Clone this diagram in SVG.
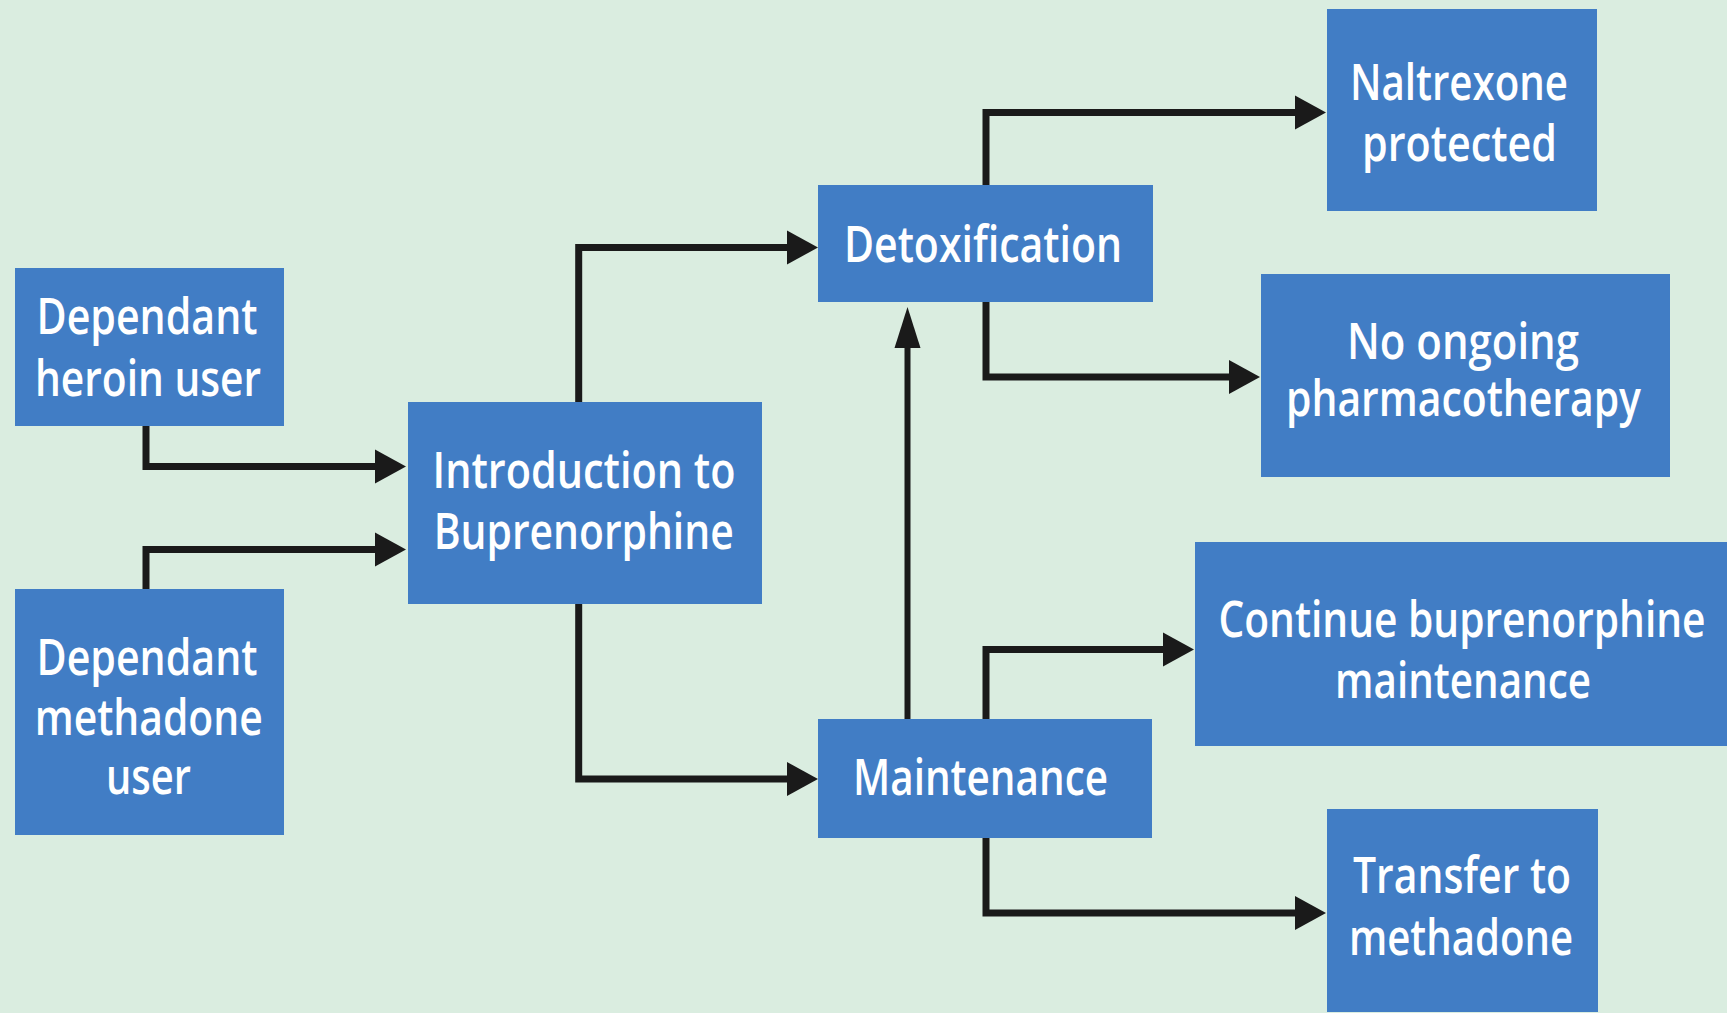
<svg xmlns="http://www.w3.org/2000/svg" width="1727" height="1013" viewBox="0 0 1727 1013">
<style>
.box{fill:#417DC5;}
.lbl{fill:#FFFFFF;font-family:"Open Sans","Noto Sans","DejaVu Sans",sans-serif;font-weight:600;font-size:51px;text-anchor:middle;}
.conn{fill:none;stroke:#1A1A1A;stroke-width:7;stroke-linejoin:miter;stroke-linecap:butt;}
.thin{fill:none;stroke:#1A1A1A;stroke-width:6;}
</style>
<defs>
<marker id="ah" markerUnits="userSpaceOnUse" markerWidth="32" markerHeight="34" refX="0" refY="17" orient="auto" overflow="visible">
<path d="M0,0 L31,17 L0,34 Z" fill="#1A1A1A"/>
</marker>
<marker id="ahUp" markerUnits="userSpaceOnUse" markerWidth="42" markerHeight="26" refX="0" refY="13" orient="auto" overflow="visible">
<path d="M0,0 L41,13 L0,26 Z" fill="#1A1A1A"/>
</marker>
</defs>
<rect x="0" y="0" width="1727" height="1013" fill="#DAEDE0"/>
<g id="connectors">
<path class="conn" d="M146,426 V466.5 H375" marker-end="url(#ah)"/>
<path class="conn" d="M146,589 V549.5 H375" marker-end="url(#ah)"/>
<path class="conn" d="M578.7,402 V247.5 H787" marker-end="url(#ah)"/>
<path class="conn" d="M578.7,604 V779 H787" marker-end="url(#ah)"/>
<path class="thin" d="M907.5,719 V348" marker-end="url(#ahUp)"/>
<path class="conn" d="M986,185 V112.5 H1295" marker-end="url(#ah)"/>
<path class="conn" d="M986,302 V377 H1229" marker-end="url(#ah)"/>
<path class="conn" d="M986,719 V649.5 H1163" marker-end="url(#ah)"/>
<path class="conn" d="M986,838 V913 H1295" marker-end="url(#ah)"/>
</g>
<g id="heroin">
<rect class="box" x="15" y="268" width="269" height="158"/>
<text class="lbl" x="147" y="334" textLength="221" lengthAdjust="spacingAndGlyphs">Dependant</text>
<text class="lbl" x="148" y="395.5" textLength="226" lengthAdjust="spacingAndGlyphs">heroin user</text>
</g>
<g id="methadone-user">
<rect class="box" x="15" y="589" width="269" height="246"/>
<text class="lbl" x="147" y="674.5" textLength="221" lengthAdjust="spacingAndGlyphs">Dependant</text>
<text class="lbl" x="148.7" y="734.5" textLength="228" lengthAdjust="spacingAndGlyphs">methadone</text>
<text class="lbl" x="148.5" y="794" textLength="85" lengthAdjust="spacingAndGlyphs">user</text>
</g>
<g id="introduction">
<rect class="box" x="408" y="402" width="354" height="202"/>
<text class="lbl" x="584" y="488" textLength="303" lengthAdjust="spacingAndGlyphs">Introduction to</text>
<text class="lbl" x="583.7" y="549" textLength="300" lengthAdjust="spacingAndGlyphs">Buprenorphine</text>
</g>
<g id="detoxification">
<rect class="box" x="818" y="185" width="335" height="117"/>
<text class="lbl" x="983" y="261.7" textLength="278" lengthAdjust="spacingAndGlyphs">Detoxification</text>
</g>
<g id="maintenance">
<rect class="box" x="818" y="719" width="334" height="119"/>
<text class="lbl" x="980.5" y="795" textLength="255" lengthAdjust="spacingAndGlyphs">Maintenance</text>
</g>
<g id="naltrexone">
<rect class="box" x="1327" y="9" width="270" height="202"/>
<text class="lbl" x="1459" y="99.5" textLength="218" lengthAdjust="spacingAndGlyphs">Naltrexone</text>
<text class="lbl" x="1459.5" y="160.5" textLength="195" lengthAdjust="spacingAndGlyphs">protected</text>
</g>
<g id="no-ongoing">
<rect class="box" x="1261" y="274" width="409" height="203"/>
<text class="lbl" x="1463" y="358.5" textLength="232" lengthAdjust="spacingAndGlyphs">No ongoing</text>
<text class="lbl" x="1463.5" y="416" textLength="355" lengthAdjust="spacingAndGlyphs">pharmacotherapy</text>
</g>
<g id="continue">
<rect class="box" x="1195" y="542" width="532" height="204"/>
<text class="lbl" x="1462" y="636.7" textLength="487" lengthAdjust="spacingAndGlyphs">Continue buprenorphine</text>
<text class="lbl" x="1463" y="698.3" textLength="256" lengthAdjust="spacingAndGlyphs">maintenance</text>
</g>
<g id="transfer">
<rect class="box" x="1327" y="809" width="271" height="203"/>
<text class="lbl" x="1462" y="892.5" textLength="218" lengthAdjust="spacingAndGlyphs">Transfer to</text>
<text class="lbl" x="1461" y="954.5" textLength="224" lengthAdjust="spacingAndGlyphs">methadone</text>
</g>
</svg>
